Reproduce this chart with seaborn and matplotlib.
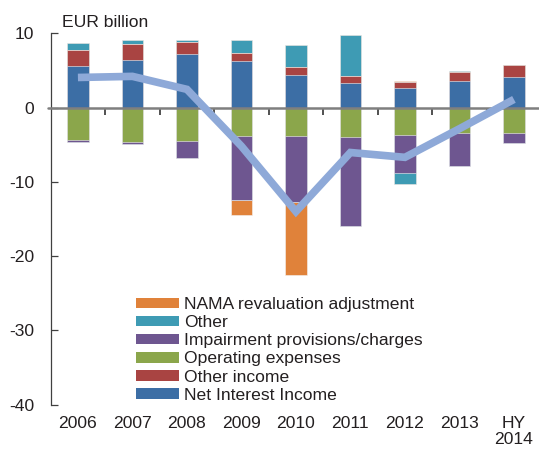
import numpy as np
import pandas as pd
import matplotlib
matplotlib.use("Agg")
import matplotlib.pyplot as plt
from matplotlib.patches import Patch
import seaborn as sns

# ---- data (EUR billion) ----
years = ["2006", "2007", "2008", "2009", "2010", "2011", "2012", "2013", "HY\n2014"]
net_interest_income = [5.6, 6.45, 7.2, 6.25, 4.4, 3.3, 2.6, 3.55, 4.1]
other_income = [2.2, 2.15, 1.65, 1.05, 1.1, 1.0, 0.85, 1.2, 1.6]
other = [0.85, 0.5, 0.2, 1.85, 2.9, 5.45, -1.45, 0.2, 0.05]
operating_expenses = [-4.4, -4.65, -4.5, -3.8, -3.8, -3.9, -3.75, -3.4, -3.45]
impairment = [-0.2, -0.25, -2.25, -8.65, -8.9, -12.0, -5.1, -4.4, -1.3]
nama = [0.0, 0.0, 0.0, -1.95, -9.8, 0.0, 0.15, 0.0, 0.0]
net_result = [4.05, 4.2, 2.45, -5.2, -14.0, -6.05, -6.7, -2.85, 1.1]

series = {
    "Net Interest Income": net_interest_income,
    "Other income": other_income,
    "Operating expenses": operating_expenses,
    "Impairment provisions/charges": impairment,
    "Other": other,
    "NAMA revaluation adjustment": nama,
}
colors = {
    "Net Interest Income": "#3C6EA5",
    "Other income": "#A94442",
    "Operating expenses": "#8BA64B",
    "Impairment provisions/charges": "#6E5690",
    "Other": "#3E9BB4",
    "NAMA revaluation adjustment": "#E0823A",
}
stack_order = ["Net Interest Income", "Other income", "Operating expenses",
               "Impairment provisions/charges", "Other", "NAMA revaluation adjustment"]
legend_order = ["NAMA revaluation adjustment", "Other", "Impairment provisions/charges",
                "Operating expenses", "Other income", "Net Interest Income"]

# ---- style ----
sns.set_theme(style="white")
plt.rcParams["font.family"] = ["Liberation Sans", "DejaVu Sans"]
plt.rcParams["axes.unicode_minus"] = False
plt.rcParams["text.color"] = "#231F20"
plt.rcParams["xtick.color"] = "#231F20"
plt.rcParams["ytick.color"] = "#231F20"
FS = 12.6

fig = plt.figure(figsize=(5.39, 4.54), dpi=100)
ax = fig.add_axes([0.094, 0.1086, 0.906, 0.8181])

# cumulative stacking (positive upward, negative downward), drawn outermost first
df = pd.DataFrame(series, index=years)
pos_cum = np.zeros(len(years))
neg_cum = np.zeros(len(years))
layers = []
for name in stack_order:
    vals = df[name].to_numpy()
    pos_cum = pos_cum + np.clip(vals, 0, None)
    neg_cum = neg_cum + np.clip(vals, None, 0)
    layers.append((name, pos_cum.copy(), neg_cum.copy()))

for name, ptop, nbot in reversed(layers):
    for h in (ptop, nbot):
        d = pd.DataFrame({"year": years, "value": h})
        sns.barplot(data=d, x="year", y="value", color=colors[name], saturation=1,
                    width=0.4, edgecolor="#F4F4F4", linewidth=0.4, ax=ax, zorder=2)

ax.axhline(0, color="#7F7F7F", lw=1.8, zorder=3, xmin=-0.006, clip_on=False)

sns.lineplot(x=np.arange(len(years)), y=net_result, color="#8EA9D8", lw=5.5,
             ax=ax, zorder=4, solid_capstyle="butt", solid_joinstyle="miter")

ax.set_xlim(-0.5, 8.46)
ax.set_ylim(-40, 10)
ax.set_yticks([-40, -30, -20, -10, 0, 10])
ax.set_xlabel("")
ax.set_ylabel("")
ax.set_xticks(np.arange(len(years)))
ax.set_xticklabels(years, fontsize=FS, linespacing=1.1)
ax.tick_params(axis="x", length=0, pad=8)
ax.tick_params(axis="y", direction="in", length=5, width=0.9, color="#404040",
               pad=12, labelsize=FS, left=True)
for s in ["top", "right", "bottom"]:
    ax.spines[s].set_visible(False)
ax.spines["left"].set_color("#404040")
ax.spines["left"].set_linewidth(0.9)

# category-boundary ticks on the zero line
sec = ax.secondary_xaxis(0.8)
sec.set_xticks(np.arange(len(years)) + 0.5)
sec.set_xticklabels([])
sec.tick_params(axis="x", direction="in", length=5, width=1.2, color="#333333")
for s in sec.spines.values():
    s.set_visible(False)

handles = [Patch(facecolor=colors[n], edgecolor="none") for n in legend_order]
leg = ax.legend(handles, legend_order, loc="upper left", bbox_to_anchor=(0.174, 0.29),
                frameon=False, fontsize=FS, handlelength=2.5, handleheight=0.55,
                handletextpad=0.25, labelspacing=0.18, borderpad=0, borderaxespad=0)

fig.text(62 / 539, 1 - 26.7 / 454, "EUR billion", fontsize=FS, va="baseline", ha="left")

fig.savefig("out.png", dpi=100)
